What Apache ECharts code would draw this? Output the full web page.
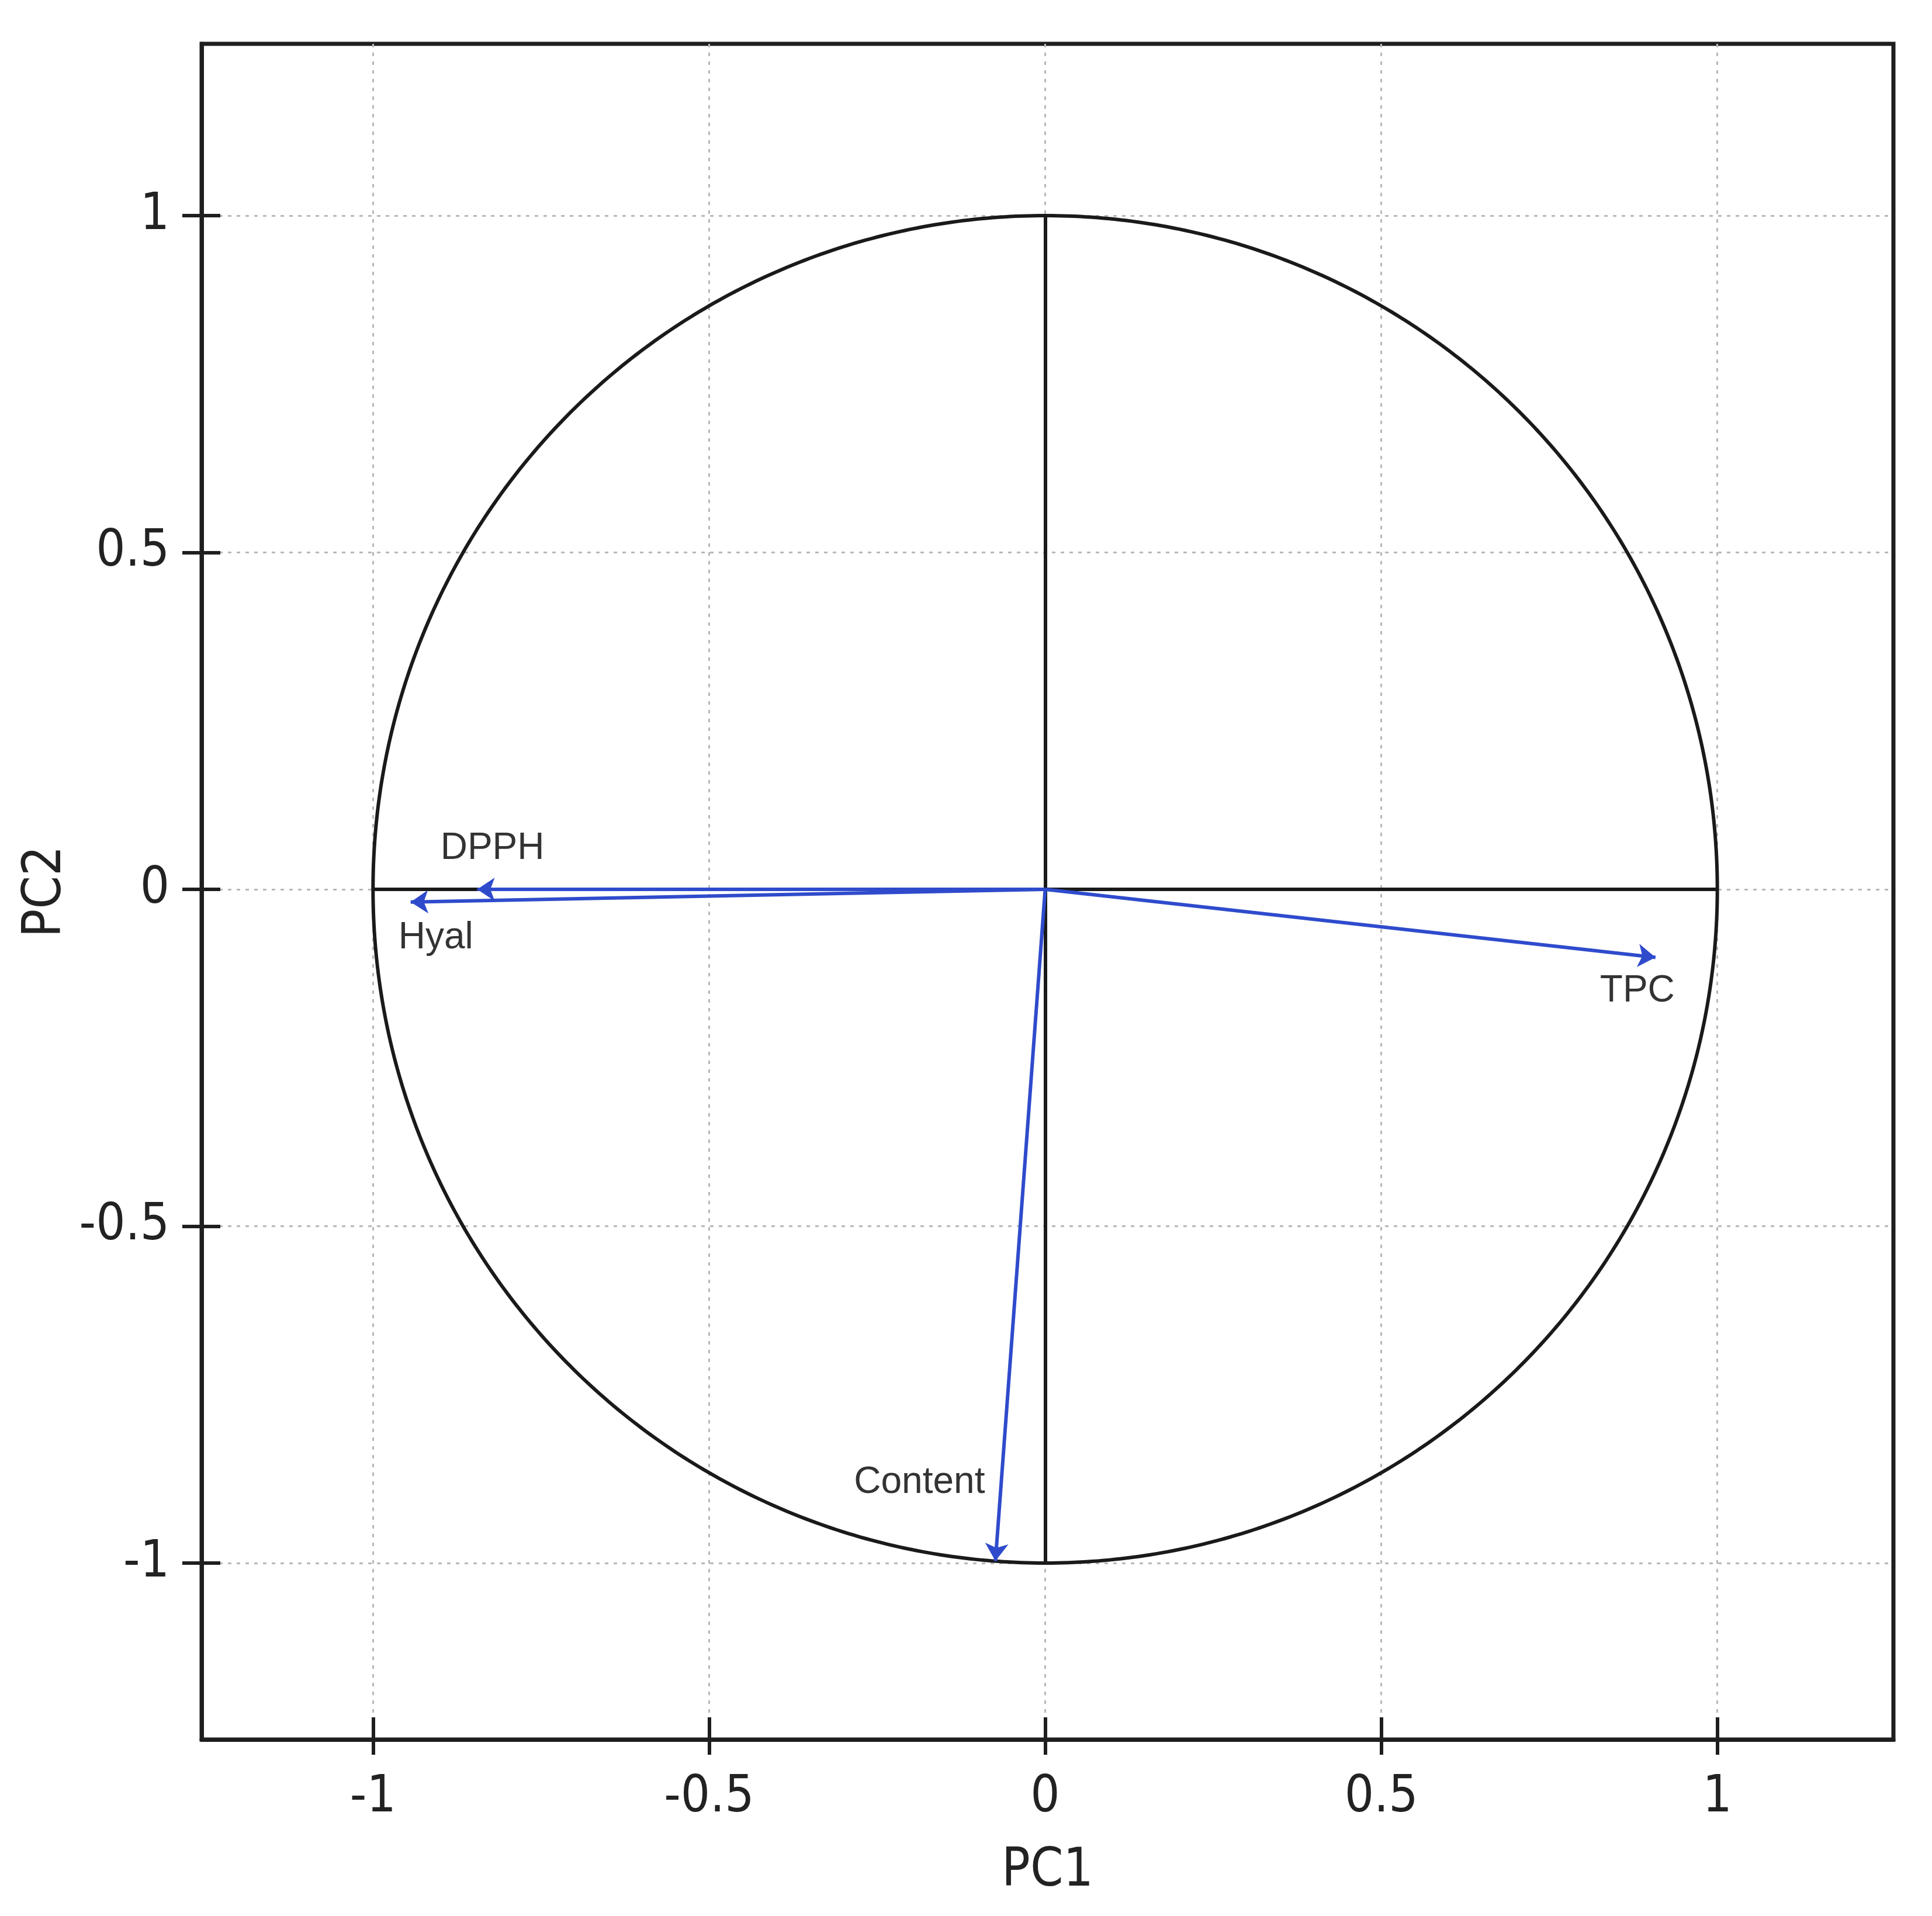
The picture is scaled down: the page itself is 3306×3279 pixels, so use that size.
<!DOCTYPE html>
<html>
<head>
<meta charset="utf-8">
<script src="https://cdn.jsdelivr.net/npm/echarts@6/dist/echarts.min.js"></script>
<style>
  html, body { margin: 0; padding: 0; background: #ffffff; }
  #chart { width: 3306px; height: 3279px; }
</style>
</head>
<body>
<div id="chart"></div>
<script>
// ---- data ----
const variables = ['DPPH', 'Hyal', 'TPC', 'Content'];
const pc1 = [-0.845, -0.944, 0.908, -0.074];
const pc2 = [0.000, -0.019, -0.101, -0.997];
// label offsets (pixels) relative to arrow tips
const labelOffsets = [[26, -70], [43, 61], [-31, 58], [-130, -134]];

const tickValues = [-1, -0.5, 0, 0.5, 1];
const tickLabels = ['-1', '-0.5', '0', '0.5', '1'];
const xRange = [-1.255, 1.262];
const yRange = [-1.262, 1.255];
const circleRadius = 1;
const crossSegments = [
  [[-1, 0], [1, 0]],
  [[0, 1], [0, -1]]
];

const axisColor = '#1e1e1e';
const arrowColor = '#2f4bcc';
const axisFont = "'Liberation Sans Narrow', 'DejaVu Sans Condensed', 'Arial Narrow', 'Liberation Sans', Arial, sans-serif";

function fmt(v) {
  const i = tickValues.findIndex(t => Math.abs(t - v) < 1e-9);
  return i >= 0 ? tickLabels[i] : '';
}

const gridSplit = { show: true, lineStyle: { color: '#b8b8b8', width: 3, type: [6, 9] } };

const chart = echarts.init(document.getElementById('chart'), null, { renderer: 'canvas' });

const option = {
  backgroundColor: '#ffffff',
  animation: false,
  grid: {
    left: 345, top: 75, width: 2895, height: 2902,
    show: true, borderColor: axisColor, borderWidth: 7, backgroundColor: 'transparent'
  },
  xAxis: [
    {
      type: 'value', min: xRange[0], max: xRange[1], position: 'bottom',
      axisLine: { show: true, onZero: false, lineStyle: { color: axisColor, width: 7 } },
      axisTick: { show: true, inside: false, length: 26, customValues: tickValues, lineStyle: { color: axisColor, width: 6 } },
      axisLabel: { show: true, customValues: tickValues, formatter: fmt, fontSize: 88, fontFamily: axisFont, color: '#222', margin: 56 },
      splitLine: gridSplit,
      name: 'PC1', nameLocation: 'middle', nameGap: 182,
      nameTextStyle: { fontSize: 90, fontFamily: axisFont, color: '#222' }
    },
    {
      type: 'value', min: xRange[0], max: xRange[1], position: 'bottom',
      axisLine: { show: false, onZero: false },
      axisTick: { show: true, inside: true, length: 38, customValues: tickValues, lineStyle: { color: axisColor, width: 6 } },
      axisLabel: { show: false },
      splitLine: { show: false }
    }
  ],
  yAxis: [
    {
      type: 'value', min: yRange[0], max: yRange[1], position: 'left',
      axisLine: { show: true, onZero: false, lineStyle: { color: axisColor, width: 7 } },
      axisTick: { show: true, inside: false, length: 33, customValues: tickValues, lineStyle: { color: axisColor, width: 6 } },
      axisLabel: { show: true, customValues: tickValues, formatter: fmt, fontSize: 88, fontFamily: axisFont, color: '#222', margin: 55 },
      splitLine: gridSplit,
      name: 'PC2', nameLocation: 'middle', nameGap: 210, nameRotate: 90,
      nameTextStyle: { fontSize: 90, fontFamily: axisFont, color: '#222' }
    },
    {
      type: 'value', min: yRange[0], max: yRange[1], position: 'left',
      axisLine: { show: false, onZero: false },
      axisTick: { show: true, inside: true, length: 32, customValues: tickValues, lineStyle: { color: axisColor, width: 6 } },
      axisLabel: { show: false },
      splitLine: { show: false }
    }
  ],
  series: [
    {
      type: 'custom',
      coordinateSystem: 'cartesian2d',
      xAxisIndex: 0, yAxisIndex: 0,
      silent: true,
      data: [[0, 0, circleRadius]],
      renderItem: function (params, api) {
        const r = api.value(2);
        const pts = [];
        for (let k = 0; k <= 720; k++) {
          const a = (k / 720) * Math.PI * 2;
          pts.push(api.coord([r * Math.cos(a), r * Math.sin(a)]));
        }
        return {
          type: 'polyline',
          shape: { points: pts },
          style: { stroke: '#1a1a1a', lineWidth: 6, fill: null }
        };
      },
      z: 3
    },
    {
      type: 'lines',
      coordinateSystem: 'cartesian2d',
      xAxisIndex: 0, yAxisIndex: 0,
      silent: true,
      symbol: ['none', 'none'],
      lineStyle: { color: '#1a1a1a', width: 6, opacity: 1 },
      data: crossSegments.map(s => ({ coords: s })),
      z: 4
    },
    {
      type: 'lines',
      coordinateSystem: 'cartesian2d',
      xAxisIndex: 0, yAxisIndex: 0,
      silent: true,
      symbol: ['none', 'arrow'],
      symbolSize: 30,
      lineStyle: { color: arrowColor, width: 6, opacity: 1 },
      data: variables.map((v, i) => ({ name: v, coords: [[0, 0], [pc1[i], pc2[i]]] })),
      z: 5
    },
    {
      type: 'scatter',
      xAxisIndex: 0, yAxisIndex: 0,
      silent: true,
      symbolSize: 0,
      data: variables.map((v, i) => ({
        name: v,
        value: [pc1[i], pc2[i]],
        label: { offset: labelOffsets[i] }
      })),
      label: {
        show: true, position: 'inside',
        formatter: p => p.name,
        fontSize: 64, fontFamily: "'Liberation Sans', Arial, sans-serif", color: '#000'
      },
      z: 6
    }
  ]
};

chart.setOption(option);
</script>
</body>
</html>
